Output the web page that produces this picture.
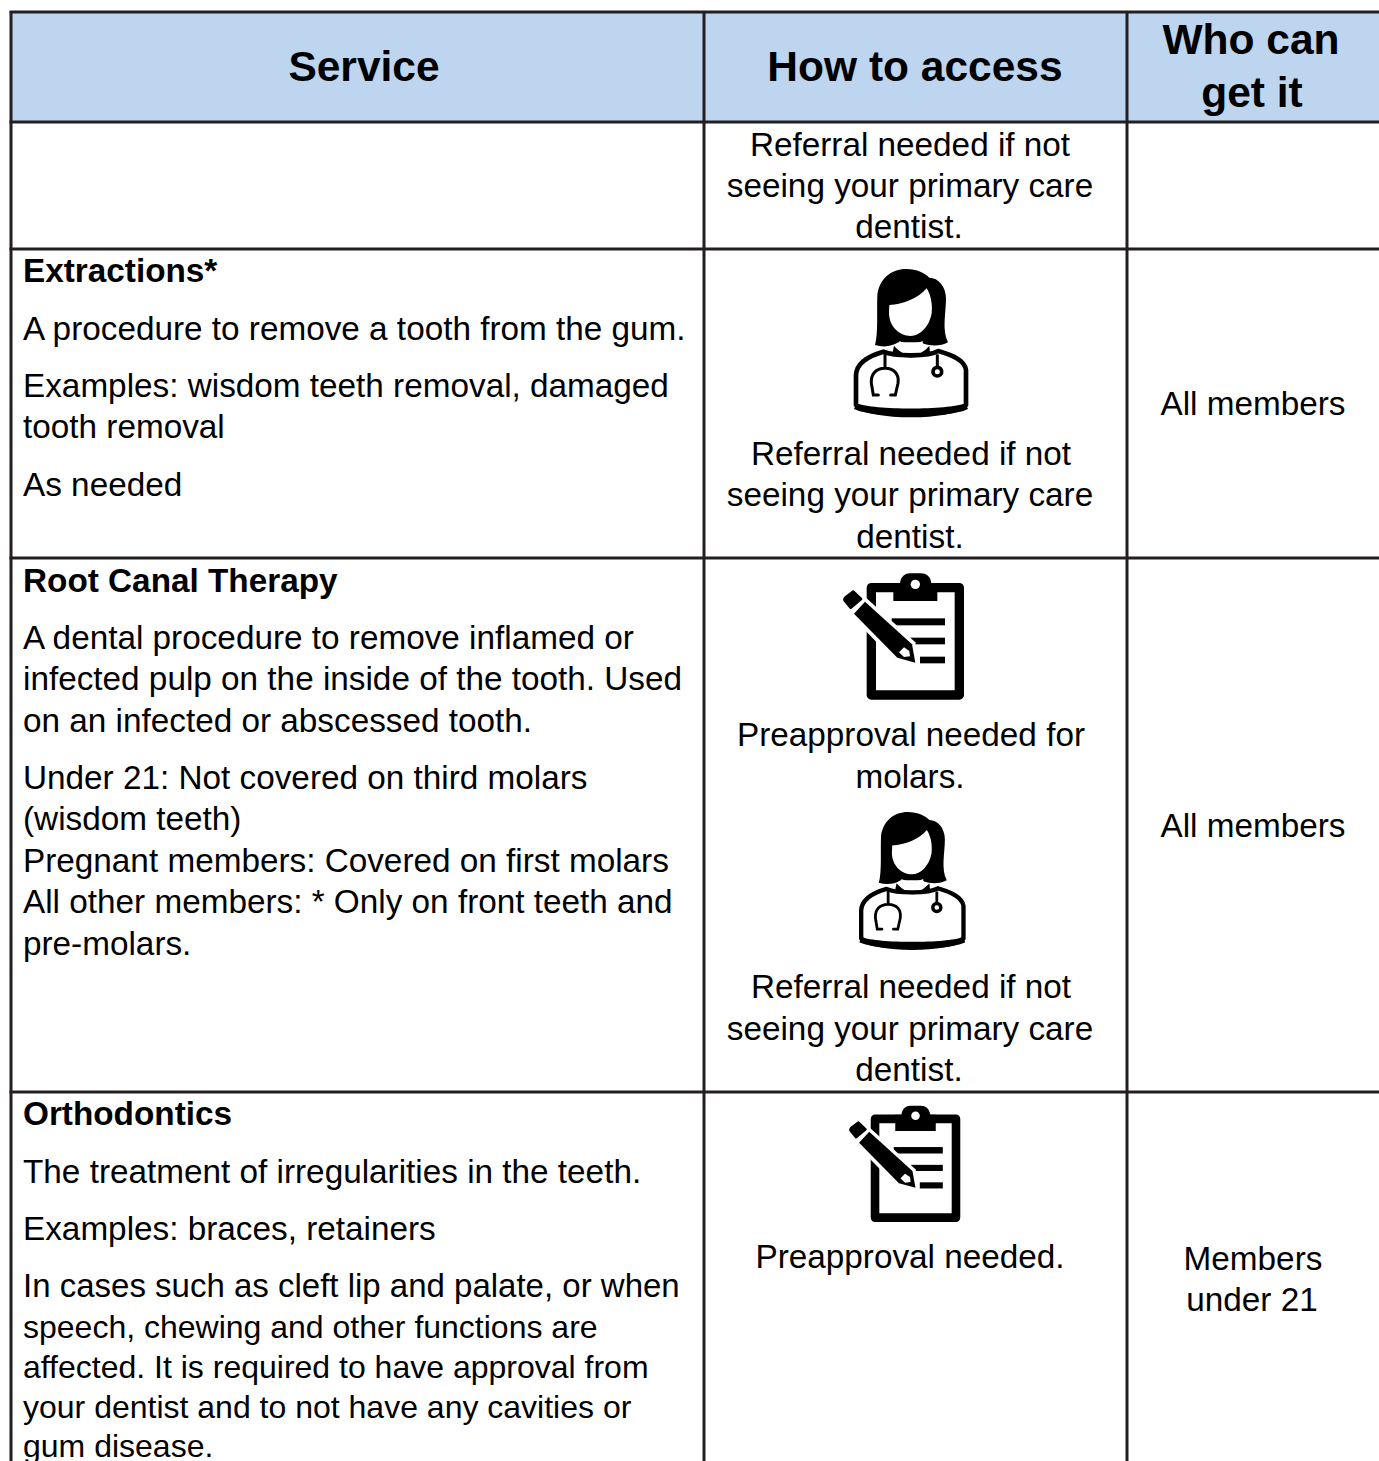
<!DOCTYPE html>
<html>
<head>
<meta charset="utf-8">
<script src="https://cdn.jsdelivr.net/npm/d3@7"></script>
<style>
  html, body { margin: 0; padding: 0; background: #fff; overflow: hidden; }
  text { font-family: "Liberation Sans", Arial, sans-serif; fill: #000; }
</style>
</head>
<body>
<div id="table"></div>
<script>
// table content
var headers = ["Service", "How to access", "Who can", "get it"];
var serviceLines = [
  "Extractions*",
  "A procedure to remove a tooth from the gum.",
  "Examples: wisdom teeth removal, damaged",
  "tooth removal",
  "As needed",
  "Root Canal Therapy",
  "A dental procedure to remove inflamed or",
  "infected pulp on the inside of the tooth. Used",
  "on an infected or abscessed tooth.",
  "Under 21: Not covered on third molars",
  "(wisdom teeth)",
  "Pregnant members: Covered on first molars",
  "All other members: * Only on front teeth and",
  "pre-molars.",
  "Orthodontics",
  "The treatment of irregularities in the teeth.",
  "Examples: braces, retainers",
  "In cases such as cleft lip and palate, or when",
  "speech, chewing and other functions are",
  "affected. It is required to have approval from",
  "your dentist and to not have any cavities or",
  "gum disease."
];
var boldLines = ["Extractions*", "Root Canal Therapy", "Orthodontics"];
// the last lines of the page are set slightly smaller in the original
var smallLines = [
  "speech, chewing and other functions are",
  "affected. It is required to have approval from",
  "your dentist and to not have any cavities or",
  "gum disease."
];
var accessLines = [
  "Referral needed if not",
  "seeing your primary care",
  "dentist.",
  "Referral needed if not",
  "seeing your primary care",
  "dentist.",
  "Preapproval needed for",
  "molars.",
  "Referral needed if not",
  "seeing your primary care",
  "dentist.",
  "Preapproval needed."
];
var whoLines = ["All members", "All members", "Members", "under 21"];

// layout
var svgWidth = 1379;
var svgHeight = 1461;
var colEdges = [11, 704, 1127];
var rowEdges = [12, 122, 249, 558, 1092];
var headerPos = [[364, 81], [915, 81], [1251, 54], [1252, 107]];
var serviceY = [282, 340, 397, 438, 496, 592, 649, 690, 732, 789, 830, 872, 913, 955, 1125, 1183, 1240, 1297, 1338, 1378, 1418, 1457];
var accessPos = [[910, 156], [910, 197], [909, 238], [911, 465], [910, 506], [910, 548], [911, 746], [910, 788], [911, 998], [910, 1040], [909, 1081], [910, 1268]];
var whoPos = [[1253, 415], [1253, 837], [1253, 1270], [1252, 1311]];

var lineColor = "#231f20";
var bodySize = 33.3;
var smallSize = 32;
var headSize = 42.5;

function serviceSize(d) {
  if (smallLines.includes(d)) return smallSize;
  if (d.startsWith("In cases")) return 33;
  return bodySize;
}

var svg = d3
  .select("#table")
  .append("svg")
  .attr("width", svgWidth)
  .attr("height", svgHeight)
  .style("display", "block");

// header band
svg
  .append("rect")
  .attr("x", colEdges[0])
  .attr("y", rowEdges[0])
  .attr("width", svgWidth - colEdges[0])
  .attr("height", rowEdges[1] - rowEdges[0])
  .attr("fill", "#bdd5ee");

// grid lines
svg
  .selectAll("line.row")
  .data(rowEdges)
  .enter()
  .append("line")
  .attr("class", "row")
  .attr("x1", colEdges[0] - 1.5)
  .attr("x2", svgWidth)
  .attr("y1", (d) => d)
  .attr("y2", (d) => d)
  .attr("stroke", lineColor)
  .attr("stroke-width", 3);

svg
  .selectAll("line.col")
  .data(colEdges)
  .enter()
  .append("line")
  .attr("class", "col")
  .attr("x1", (d) => d)
  .attr("x2", (d) => d)
  .attr("y1", rowEdges[0])
  .attr("y2", svgHeight)
  .attr("stroke", lineColor)
  .attr("stroke-width", 3);

// header text
svg
  .selectAll("text.head")
  .data(headers)
  .enter()
  .append("text")
  .attr("class", "head")
  .attr("x", (d, i) => headerPos[i][0])
  .attr("y", (d, i) => headerPos[i][1])
  .attr("text-anchor", "middle")
  .attr("font-size", headSize)
  .attr("font-weight", "bold")
  .text((d) => d);

// first column
svg
  .selectAll("text.service")
  .data(serviceLines)
  .enter()
  .append("text")
  .attr("class", "service")
  .attr("x", 23)
  .attr("y", (d, i) => serviceY[i])
  .attr("font-size", serviceSize)
  .attr("font-weight", (d) => (boldLines.includes(d) ? "bold" : "normal"))
  .text((d) => d);

// second column
svg
  .selectAll("text.access")
  .data(accessLines)
  .enter()
  .append("text")
  .attr("class", "access")
  .attr("x", (d, i) => accessPos[i][0])
  .attr("y", (d, i) => accessPos[i][1])
  .attr("text-anchor", "middle")
  .attr("font-size", bodySize)
  .text((d) => d);

// third column
svg
  .selectAll("text.who")
  .data(whoLines)
  .enter()
  .append("text")
  .attr("class", "who")
  .attr("x", (d, i) => whoPos[i][0])
  .attr("y", (d, i) => whoPos[i][1])
  .attr("text-anchor", "middle")
  .attr("font-size", bodySize)
  .text((d) => d);

// doctor icon, drawn in a 3x box
function drawDoctor(x, y, k) {
  var g = svg.append("g").attr("transform", `translate(${x}, ${y}) scale(${k / 3})`);
  // shoulders
  g.append("path")
    .attr("d", "M160 290 C125 300 80 318 78 360 L78 450 C125 490 360 490 408 450 L408 345 C404 315 365 300 325 288 C295 305 195 305 160 290 Z")
    .attr("fill", "#fff")
    .attr("stroke", "#000")
    .attr("stroke-width", 14)
    .attr("stroke-linejoin", "round");
  g.append("path")
    .attr("d", "M80 445 C130 466 355 466 406 445 L414 462 C360 490 130 490 72 462 Z")
    .attr("fill", "#000");
  // hair
  g.append("path")
    .attr("d", "M135 270 C145 235 140 170 142 120 C148 70 185 42 228 42 C262 42 285 55 298 68 C325 68 348 95 348 130 C348 175 335 225 354 262 C330 275 300 275 270 262 L205 262 C185 275 160 278 135 270 Z")
    .attr("fill", "#000");
  // neck and collar
  g.append("path")
    .attr("d", "M192 272 C225 310 265 310 298 272 L300 292 C260 312 225 312 188 292 Z")
    .attr("fill", "#000");
  g.append("path")
    .attr("d", "M208 258 C225 268 260 268 278 258 L280 280 C255 290 225 290 205 280 Z")
    .attr("fill", "#fff");
  // face
  g.append("path")
    .attr("d", "M178 150 C220 148 265 130 290 100 C303 120 308 150 305 175 C298 215 270 243 242 243 C208 243 178 215 177 175 Z")
    .attr("fill", "#fff");
  // stethoscope
  g.append("path")
    .attr("d", "M165 295 L165 340 C135 340 122 360 124 385 L130 420 L145 420 M165 340 C195 340 208 360 204 385 L196 420 L182 420")
    .attr("fill", "none")
    .attr("stroke", "#000")
    .attr("stroke-width", 9)
    .attr("stroke-linecap", "round");
  g.append("path")
    .attr("d", "M322 298 L322 335")
    .attr("stroke", "#000")
    .attr("stroke-width", 9);
  g.append("circle")
    .attr("cx", 322)
    .attr("cy", 350)
    .attr("r", 13)
    .attr("fill", "#fff")
    .attr("stroke", "#000")
    .attr("stroke-width", 11);
}

// clipboard and pencil icon, drawn in a 3x box
function drawClipboard(x, y, k) {
  var g = svg.append("g").attr("transform", `translate(${x}, ${y}) scale(${k / 3})`);
  g.append("path")
    .attr("d", "M124 68 L388 68 L388 390 L124 390 Z")
    .attr("fill", "#fff")
    .attr("stroke", "#000")
    .attr("stroke-width", 28)
    .attr("stroke-linejoin", "round");
  // clip
  g.append("path")
    .attr("d", "M190 108 L190 55 L210 55 C212 35 225 25 240 25 L272 25 C290 25 302 35 304 55 L322 55 L322 108 Z")
    .attr("fill", "#000");
  g.append("circle").attr("cx", 256).attr("cy", 58).attr("r", 14).attr("fill", "#fff");
  // written lines
  g.append("rect").attr("x", 185).attr("y", 160).attr("width", 160).attr("height", 21).attr("fill", "#000");
  g.append("rect").attr("x", 240).attr("y", 218).attr("width", 105).attr("height", 20).attr("fill", "#000");
  g.append("rect").attr("x", 270).attr("y", 275).attr("width", 75).attr("height", 20).attr("fill", "#000");
  // white halo under the pencil
  g.append("path")
    .attr("d", "M108 98 L58 148 L195 288 L268 306 L256 232 Z")
    .attr("fill", "#fff");
  // pencil
  g.append("path")
    .attr("d", "M105 110 L72 146 L202 278 L256 293 L246 238 Z")
    .attr("fill", "#000");
  g.append("path")
    .attr("d", "M70 80 L93 102 L62 128 L44 106 Q42 102 46 98 Z")
    .attr("fill", "#000")
    .attr("stroke", "#000")
    .attr("stroke-width", 8)
    .attr("stroke-linejoin", "round");
  g.append("path")
    .attr("d", "M222 247 L238 258 L240 274 L222 276 L207 262 Z")
    .attr("fill", "#fff");
}

drawDoctor(830, 255, 1);
drawClipboard(830, 565, 1);
drawDoctor(837, 799, 0.93);
drawClipboard(837, 1098, 0.92);
</script>
</body>
</html>
